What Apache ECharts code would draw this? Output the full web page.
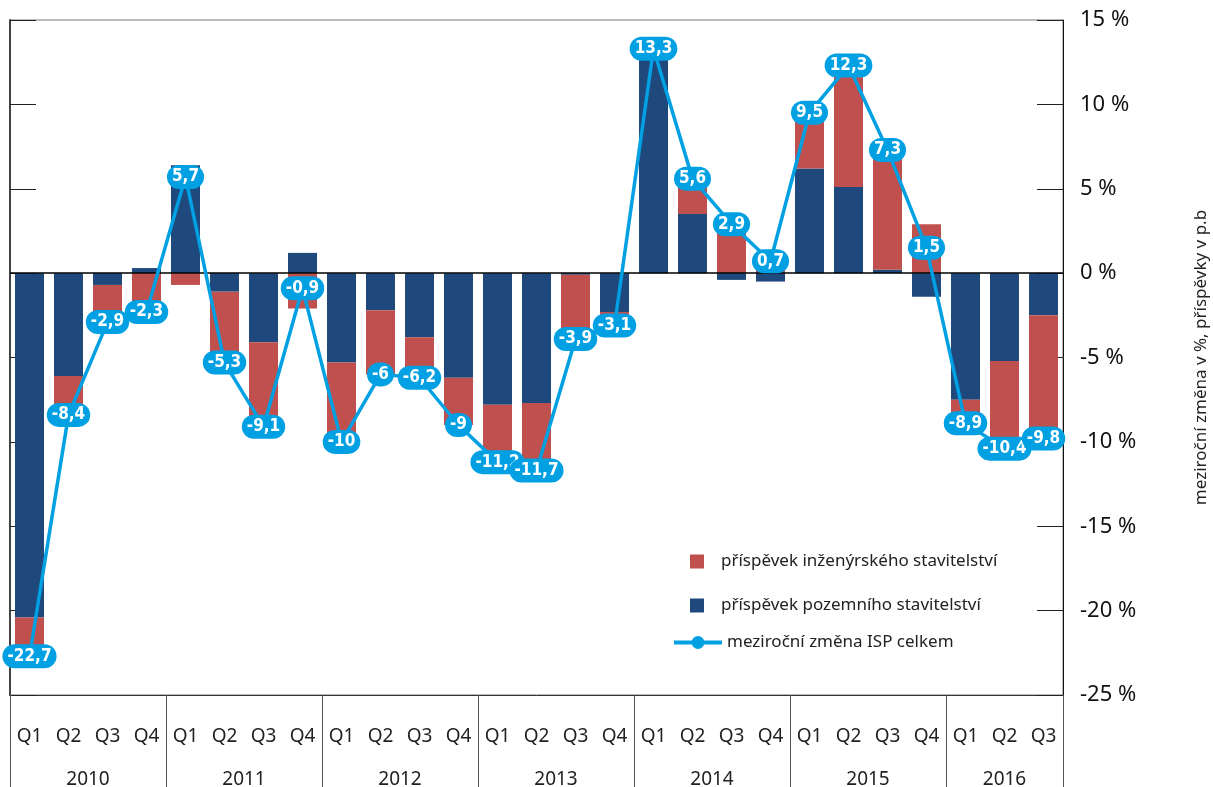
<html>
<head>
<meta charset="utf-8">
<script src="https://cdn.jsdelivr.net/npm/echarts@6/dist/echarts.min.js"></script>
</head>
<body>
<style>
    html, body, #main {
        width: 100%;
        height: 100%;
        margin: 0;
        background: #fff;
    }
</style>
<div id='main'></div>
<script>
    // ctvrtleti a roky
    var quarters = ['Q1','Q2','Q3','Q4','Q1','Q2','Q3','Q4','Q1','Q2','Q3','Q4','Q1','Q2','Q3','Q4',
                    'Q1','Q2','Q3','Q4','Q1','Q2','Q3','Q4','Q1','Q2','Q3'];
    var years = ['2010','2011','2012','2013','2014','2015','2016'];
    var quartersPerYear = [4, 4, 4, 4, 4, 4, 3];

    // prispevky v p.b.
    var pozemni = [-20.4, -6.1, -0.7, 0.3, 6.4, -1.1, -4.1, 1.2, -5.3, -2.2, -3.8, -6.2, -7.8, -7.7, -0.1, -2.3,
                   13.3, 3.5, -0.4, -0.5, 6.2, 5.1, 0.2, -1.4, -7.5, -5.2, -2.5];
    var inzenyrske = [-2.3, -2.3, -2.2, -2.6, -0.7, -4.2, -5.0, -2.1, -4.7, -3.8, -2.4, -2.8, -3.4, -4.0, -3.8, -0.8,
                      0, 2.1, 3.3, 1.2, 3.3, 7.2, 7.1, 2.9, -1.4, -5.2, -7.3];
    // mezirocni zmena ISP celkem
    var celkem = [-22.7, -8.4, -2.9, -2.3, 5.7, -5.3, -9.1, -0.9, -10, -6, -6.2, -9, -11.2, -11.7, -3.9, -3.1,
                  13.3, 5.6, 2.9, 0.7, 9.5, 12.3, 7.3, 1.5, -8.9, -10.4, -9.8];

    // osa roku v polovinach ctvrtleti (0 .. 2*pocet ctvrtleti)
    var halfSteps = [];
    for (var h = 0; h <= quarters.length * 2; h++) halfSteps.push('');
    var yearStart = {};
    var start = 0;
    for (var i = 0; i < years.length; i++) {
        halfSteps[start * 2 + quartersPerYear[i]] = years[i];
        yearStart[start * 2] = true;
        start += quartersPerYear[i];
    }
    yearStart[start * 2] = true;

    var RED = '#C0504D', BLUE = '#1F497D', CYAN = '#00A0E3';
    var FONT = 'Noto Sans';

    var chart = echarts.init(document.getElementById('main'));
    var option = {
        animation: false,
        grid: {
            left: 10, right: 150, top: 20, bottom: 92,
            outerBoundsMode: 'none',
            show: true, borderColor: '#777', borderWidth: 1
        },
        legend: [{
            orient: 'vertical',
            left: 685, top: 548,
            itemWidth: 14, itemHeight: 14, itemGap: 27,
            icon: 'rect',
            data: ['příspěvek inženýrského stavitelství', 'příspěvek pozemního stavitelství'],
            textStyle: {fontFamily: FONT, fontSize: 17, color: '#222', lineHeight: 14, padding: [0, 0, 0, 12]}
        }, {
            orient: 'vertical',
            left: 667, top: 629,
            itemWidth: 48, itemHeight: 16,
            data: ['meziroční změna ISP celkem'],
            lineStyle: {width: 4},
            textStyle: {fontFamily: FONT, fontSize: 17, color: '#222', lineHeight: 16}
        }],
        xAxis: [{
            type: 'category',
            data: quarters,
            position: 'bottom',
            axisLine: {onZero: false, lineStyle: {color: '#333'}},
            axisTick: {show: false},
            axisLabel: {interval: 0, margin: 32, fontFamily: FONT, fontSize: 19, color: '#222'}
        }, {
            // roky a svisle oddelovace
            type: 'category',
            data: halfSteps,
            boundaryGap: false,
            position: 'bottom',
            axisLine: {show: false, onZero: false},
            splitLine: {show: false},
            axisTick: {
                show: true,
                length: 92,
                interval: function (idx) { return !!yearStart[idx]; },
                lineStyle: {color: '#555'}
            },
            axisLabel: {
                interval: 0, margin: 75, fontFamily: FONT, fontSize: 19, color: '#222'
            }
        }],
        yAxis: [{
            type: 'value',
            position: 'right',
            min: -25, max: 15, interval: 5,
            name: 'meziroční změna v %, příspěvky v p.b',
            nameLocation: 'middle',
            nameRotate: 90,
            nameGap: 130,
            nameTextStyle: {fontFamily: FONT, fontSize: 17, color: '#222'},
            axisLine: {show: true, lineStyle: {color: '#111'}},
            axisTick: {show: true, inside: true, length: 26, lineStyle: {color: '#222'}},
            splitLine: {show: false},
            axisLabel: {
                margin: 17, fontFamily: FONT, fontSize: 22, color: '#111',
                formatter: function (v) { return v + ' %'; }
            }
        }, {
            type: 'value',
            position: 'left',
            min: -25, max: 15, interval: 5,
            axisLine: {show: true, lineStyle: {color: '#444', width: 2}},
            axisTick: {show: true, inside: true, length: 26, lineStyle: {color: '#222'}},
            splitLine: {show: false},
            axisLabel: {show: false}
        }],
        series: [{
            name: 'příspěvek pozemního stavitelství',
            type: 'bar',
            stack: 'isp',
            barWidth: 29,
            itemStyle: {color: BLUE},
            data: pozemni,
            markLine: {
                silent: true,
                symbol: 'none',
                label: {show: false},
                lineStyle: {color: '#000', width: 1.5, type: 'solid'},
                data: [{yAxis: 0}]
            }
        }, {
            name: 'příspěvek inženýrského stavitelství',
            type: 'bar',
            stack: 'isp',
            barWidth: 29,
            itemStyle: {color: RED},
            data: inzenyrske
        }, {
            name: 'meziroční změna ISP celkem',
            type: 'line',
            data: celkem,
            z: 5,
            symbol: 'circle',
            symbolSize: 14,
            itemStyle: {color: CYAN},
            lineStyle: {color: CYAN, width: 3.5},
            label: {
                show: true,
                position: 'inside',
                color: '#fff',
                fontFamily: 'DejaVu Sans Condensed',
                fontWeight: 'bold',
                fontSize: 17,
                backgroundColor: CYAN,
                borderRadius: 12,
                padding: [4, 5, 3, 5],
                formatter: function (p) { return String(p.value).replace('.', ','); }
            }
        }]
    };

    chart.setOption(option);

    window.onresize = chart.resize;
</script>
</body>
</html>
